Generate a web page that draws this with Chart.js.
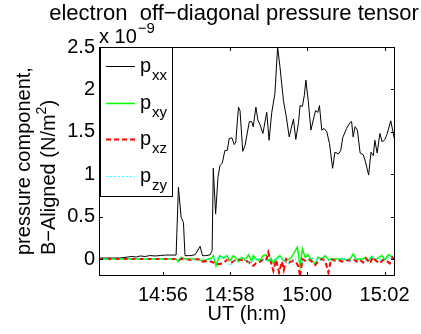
<!DOCTYPE html>
<html>
<head>
<meta charset="utf-8">
<script src="https://cdn.jsdelivr.net/npm/chart.js@4.4.1/dist/chart.umd.min.js"></script>
<style>
  html, body { margin: 0; padding: 0; background: #fff; }
  canvas { display: block; }
</style>
</head>
<body>
<canvas id="c" width="421" height="334"></canvas>
<script>
// time axis: minutes after 14:00 UT; values in units of 1e-9 N/m^2
const xxTime = [54.63,54.92,55.17,55.38,55.48,55.59,55.69,55.82,55.95,56.08,56.21,56.34,56.46,56.62,56.68,56.75,56.81,56.85,56.98,57.11,57.24,57.30,57.39,57.50,57.55,57.58,57.64,57.70,57.75,57.81,57.88,57.94,57.99,58.06,58.12,58.16,58.23,58.27,58.34,58.40,58.51,58.57,58.61,58.68,58.73,58.79,58.86,58.96,59.02,59.09,59.17,59.24,59.30,59.39,59.46,59.54,59.59,59.65,59.71,59.78,59.82,59.88,59.93,59.97,60.03,60.10,60.16,60.22,60.28,60.32,60.38,60.44,60.51,60.58,60.66,60.72,60.81,60.87,60.92,61.02,61.11,61.15,61.19,61.24,61.30,61.37,61.45,61.50,61.59,61.65,61.71,61.75,61.81,61.88,61.94,62.01,62.07,62.16,62.21,62.27];
const xxVal = [0.012,0.012,0.012,0.024,0.03,0.024,0.036,0.03,0.041,0.036,0.041,0.047,0.047,0.047,0.845,0.49,0.43,0.04,0.04,0.05,0.15,0.04,0.04,0.05,0.10,1.07,0.53,0.96,1.10,1.13,1.28,1.28,1.42,1.43,1.35,1.38,1.79,1.75,1.27,1.34,1.62,1.62,1.56,1.79,1.64,1.58,1.48,1.73,1.40,1.73,1.95,2.50,2.27,1.87,1.69,1.44,1.54,1.65,1.41,1.61,1.81,1.80,1.93,2.11,1.87,1.52,1.64,1.75,1.73,1.81,1.52,1.54,1.50,1.36,1.07,1.26,1.24,1.28,1.43,1.54,1.61,1.62,1.44,1.56,1.52,1.25,1.23,1.16,0.99,1.26,1.22,1.40,1.25,1.48,1.38,1.41,1.48,1.63,1.52,1.38];

const xyTime = [54.63,56.62,56.67,56.75,56.85,57.10,57.32,57.45,57.54,57.58,57.65,57.71,57.75,57.84,57.93,58.01,58.10,58.17,58.23,58.31,58.40,58.49,58.57,58.61,58.68,58.79,58.86,58.94,59.00,59.07,59.13,59.20,59.30,59.39,59.52,59.61,59.67,59.75,59.82,59.88,59.95,60.03,60.10,60.21,60.28,60.38,60.47,60.55,60.64,60.72,60.81,60.94,61.02,61.11,61.19,61.28,61.37,61.45,61.50,61.58,61.67,61.75,61.84,61.93,62.01,62.10,62.19,62.27];
const xyVal = [0,0,-0.03,0.02,0.0,0.0,-0.02,0.0,0.01,0.04,-0.08,0.0,0.04,0.01,0.04,-0.02,0.04,0.01,-0.03,0.02,-0.01,0.05,-0.03,0.04,0.0,-0.02,0.04,0.05,-0.02,0.01,-0.05,0.0,0.04,-0.02,-0.01,0.03,0.08,0.14,-0.08,0.12,0.02,0.05,0.0,-0.06,0.02,0.0,0.04,-0.01,0.0,0.0,0.0,0.0,-0.01,0.0,0.06,-0.01,0.0,0.0,0.02,-0.02,0.03,-0.01,0.01,0.04,-0.01,0.05,0.03,-0.01];

const xzTime = [54.63,56.62,56.68,56.80,57.00,57.20,57.30,57.45,57.58,57.71,57.84,57.93,58.06,58.20,58.27,58.40,58.49,58.61,58.68,58.79,58.86,58.94,59.00,59.07,59.13,59.20,59.28,59.35,59.40,59.46,59.54,59.63,59.72,59.78,59.82,59.88,59.95,60.03,60.10,60.21,60.30,60.38,60.47,60.55,60.62,60.72,60.81,60.90,61.00,61.10,61.19,61.28,61.37,61.45,61.52,61.62,61.70,61.78,61.88,61.96,62.05,62.13,62.20,62.27];
const xzVal = [0,0,-0.01,0.005,-0.01,0.0,-0.03,-0.02,-0.04,-0.06,-0.05,-0.01,-0.04,0.0,-0.01,-0.02,-0.035,-0.08,-0.05,-0.03,-0.01,-0.02,0.08,-0.04,-0.14,-0.01,-0.16,-0.03,-0.13,0.0,-0.04,-0.02,-0.04,-0.09,-0.21,0.0,-0.02,0.0,-0.02,-0.07,-0.02,0.0,-0.02,-0.16,0.0,-0.02,-0.01,-0.03,-0.01,-0.02,0.0,-0.03,-0.01,-0.04,0.01,-0.05,0.02,-0.02,-0.05,-0.01,-0.02,-0.05,0.02,-0.01];

const zyTime = [54.63,56.62,56.80,57.00,57.30,57.50,57.70,57.90,58.00,58.10,58.30,58.50,58.70,58.90,59.10,59.30,59.50,59.70,59.90,60.10,60.30,60.50,60.70,60.90,61.10,61.30,61.50,61.70,61.90,62.10,62.27];
const zyVal = [0,0,0.01,-0.01,0.01,-0.02,0.02,0.03,-0.08,-0.03,0.01,-0.04,0.01,-0.02,-0.01,0.02,-0.05,0.0,-0.04,0.02,-0.02,0.01,-0.03,0.01,-0.02,0.01,-0.02,0.02,-0.01,0.02,0.0];

const xTickValues = [56.28, 58, 60, 62];
const xTickLabels = ['14:56', '14:58', '15:00', '15:02'];
const yTickValues = [0, 0.5, 1, 1.5, 2, 2.5];
const yTickLabels = ['0', '0.5', '1', '1.5', '2', '2.5'];
const xRange = [54.63, 62.27];
const yRange = [-0.2, 2.5];

const legendNames = [['p', 'xx'], ['p', 'xy'], ['p', 'xz'], ['p', 'zy']];

const FONT = '"Liberation Sans", Arial, Helvetica, sans-serif';

function pts(t, v) { return t.map((x, i) => ({ x: x, y: v[i] })); }

const styles = [
  { color: '#000000', width: 1, dash: [] },
  { color: '#00ff00', width: 1.5, dash: [] },
  { color: '#ff0000', width: 2, dash: [5, 3] },
  { color: '#00ffff', width: 1.2, dash: [1.5, 2.5] }
];

const datasets = [
  { label: 'pxx', data: pts(xxTime, xxVal), order: 4 },
  { label: 'pxy', data: pts(xyTime, xyVal), order: 3 },
  { label: 'pxz', data: pts(xzTime, xzVal), order: 2 },
  { label: 'pzy', data: pts(zyTime, zyVal), order: 1 }
].map((d, i) => Object.assign(d, {
  borderColor: styles[i].color,
  borderWidth: styles[i].width,
  borderDash: styles[i].dash,
  pointRadius: 0,
  fill: false,
  tension: 0,
  showLine: true
}));

const decor = {
  id: 'decor',
  beforeDraw(chart) {
    const ctx = chart.ctx;
    ctx.save();
    ctx.fillStyle = '#fff';
    ctx.fillRect(0, 0, chart.width, chart.height);
    ctx.restore();
  },
  afterDatasetsDraw(chart) {
    const ctx = chart.ctx;
    const a = chart.chartArea;
    const xs = chart.scales.x, ys = chart.scales.y;
    ctx.save();
    ctx.strokeStyle = '#000';
    ctx.lineWidth = 1;
    ctx.setLineDash([]);
    // frame
    ctx.strokeRect(Math.round(a.left) + 0.5, Math.round(a.top) + 0.5,
                   Math.round(a.right - a.left) - 1, Math.round(a.bottom - a.top) - 1);
    const tl = 4;
    ctx.beginPath();
    xTickValues.forEach(v => {
      const px = Math.round(xs.getPixelForValue(v)) + 0.5;
      ctx.moveTo(px, a.bottom); ctx.lineTo(px, a.bottom - tl);
      ctx.moveTo(px, a.top); ctx.lineTo(px, a.top + tl);
    });
    yTickValues.forEach(v => {
      const py = Math.round(ys.getPixelForValue(v)) + 0.5;
      ctx.moveTo(a.left, py); ctx.lineTo(a.left + tl, py);
      ctx.moveTo(a.right, py); ctx.lineTo(a.right - tl, py);
    });
    ctx.stroke();

    // legend box
    const lx = a.left + 1, ly = a.top, lw = 73, lh = 150;
    ctx.fillStyle = '#fff';
    ctx.fillRect(lx, ly, lw, lh);
    ctx.strokeRect(lx + 0.5, ly + 0.5, lw - 1, lh - 1);
    const rows = [66, 103, 139, 176];
    rows.forEach((ry, i) => {
      const st = styles[i];
      ctx.strokeStyle = st.color;
      ctx.lineWidth = st.width;
      ctx.setLineDash(st.dash);
      ctx.beginPath();
      ctx.moveTo(106, ry + 0.5);
      ctx.lineTo(135, ry + 0.5);
      ctx.stroke();
      ctx.setLineDash([]);
      ctx.fillStyle = '#000';
      ctx.textAlign = 'left';
      ctx.textBaseline = 'alphabetic';
      ctx.font = '20px ' + FONT;
      ctx.fillText(legendNames[i][0], 140, ry + 6);
      const pw = ctx.measureText(legendNames[i][0]).width;
      ctx.font = '15px ' + FONT;
      ctx.fillText(legendNames[i][1], 140 + pw + 1, ry + 14);
    });
    ctx.restore();
  },
  afterDraw(chart) {
    const ctx = chart.ctx;
    const a = chart.chartArea;
    ctx.save();
    ctx.fillStyle = '#000';
    ctx.textBaseline = 'alphabetic';
    // title
    ctx.font = '22px ' + FONT;
    ctx.textAlign = 'center';
    ctx.fillText('electron  off\u2212diagonal pressure tensor', 234, 20);
    // exponent
    ctx.textAlign = 'left';
    ctx.font = '20px ' + FONT;
    ctx.fillText('x 10', 99, 43);
    const ew = ctx.measureText('x 10').width;
    ctx.font = '15px ' + FONT;
    ctx.fillText('\u22129', 99 + ew + 1, 33);
    // x label
    ctx.font = '20px ' + FONT;
    ctx.textAlign = 'center';
    ctx.fillText('UT (h:m)', (a.left + a.right) / 2, 320);
    // y label (two lines, rotated)
    ctx.save();
    ctx.translate(30, 255);
    ctx.rotate(-Math.PI / 2);
    ctx.textAlign = 'left';
    ctx.font = '20px ' + FONT;
    ctx.fillText('pressure component,', 0, 0);
    const l2 = 'B\u2212Aligned (N/m';
    ctx.fillText(l2, 0, 25);
    let w2 = ctx.measureText(l2).width;
    ctx.font = '14px ' + FONT;
    ctx.fillText('2', w2, 16);
    w2 += ctx.measureText('2').width;
    ctx.font = '20px ' + FONT;
    ctx.fillText(')', w2, 25);
    ctx.restore();
    ctx.restore();
  }
};

new Chart(document.getElementById('c'), {
  type: 'scatter',
  data: { datasets: datasets },
  options: {
    responsive: false,
    animation: false,
    devicePixelRatio: 1,
    layout: { padding: { top: 47, right: 26, left: 0, bottom: 0 } },
    plugins: { legend: { display: false }, tooltip: { enabled: false }, title: { display: false } },
    scales: {
      x: {
        type: 'linear',
        min: xRange[0], max: xRange[1],
        grid: { display: false, drawTicks: false },
        border: { display: false },
        afterFit(s) { s.height = 58; },
        afterBuildTicks(s) { s.ticks = xTickValues.map(v => ({ value: v })); },
        ticks: {
          autoSkip: false, maxRotation: 0, minRotation: 0,
          padding: 7,
          color: '#000',
          font: { family: FONT, size: 20 },
          callback(v) { const i = xTickValues.indexOf(v); return i >= 0 ? xTickLabels[i] : ''; }
        }
      },
      y: {
        type: 'linear',
        min: yRange[0], max: yRange[1],
        grid: { display: false, drawTicks: false },
        border: { display: false },
        afterFit(s) { s.width = 99; },
        afterBuildTicks(s) { s.ticks = yTickValues.map(v => ({ value: v })); },
        ticks: {
          autoSkip: false,
          padding: 4,
          color: '#000',
          font: { family: FONT, size: 20 },
          callback(v) { const i = yTickValues.indexOf(v); return i >= 0 ? yTickLabels[i] : ''; }
        }
      }
    }
  },
  plugins: [decor]
});
</script>
</body>
</html>
